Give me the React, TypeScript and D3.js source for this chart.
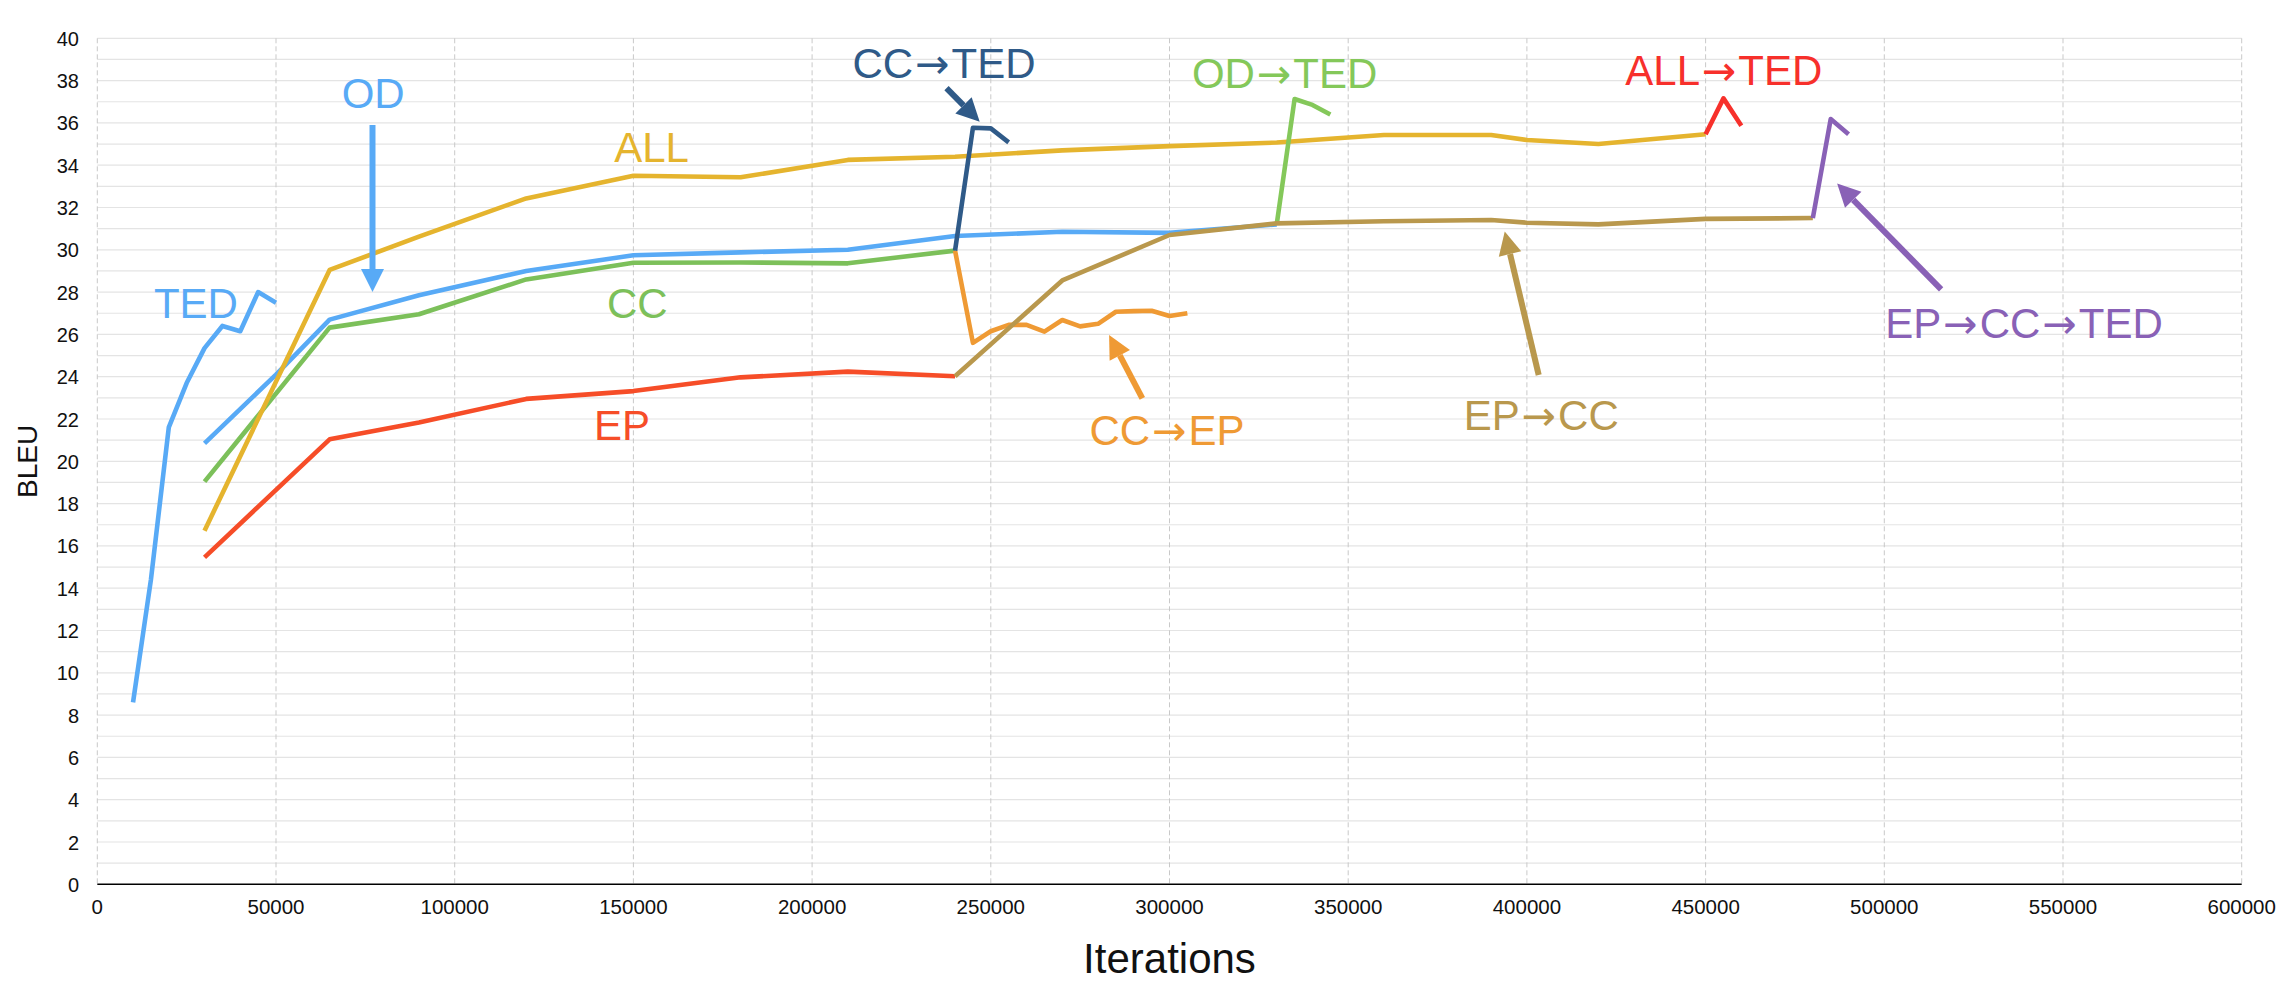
import { useEffect, useRef } from "react"
import * as d3 from "d3"

// iterations / BLEU per run
const tedX = [10000, 15000, 20000, 25000, 30000, 35000, 40000, 45000, 50000]
const tedY = [8.6, 14.4, 21.6, 23.7, 25.35, 26.4, 26.15, 28.0, 27.5]

const odX = [30000, 50000, 65000, 90000, 120000, 150000, 180000, 210000, 240000, 270000, 300000, 330000]
const odY = [20.85, 24.1, 26.7, 27.85, 29.0, 29.74, 29.88, 30.0, 30.65, 30.85, 30.8, 31.2]

const allX = [30000, 65000, 90000, 120000, 150000, 180000, 210000, 240000, 270000, 300000, 330000, 360000, 390000, 400000, 420000, 450000]
const allY = [16.72, 29.05, 30.62, 32.43, 33.5, 33.43, 34.25, 34.4, 34.7, 34.9, 35.07, 35.43, 35.43, 35.19, 35.0, 35.46]

const ccX = [30000, 65000, 90000, 120000, 150000, 180000, 210000, 240000]
const ccY = [19.04, 26.32, 26.95, 28.6, 29.39, 29.4, 29.36, 29.96]

const epX = [30000, 65000, 90000, 120000, 150000, 180000, 210000, 240000]
const epY = [15.46, 21.04, 21.83, 22.95, 23.32, 23.97, 24.24, 24.02]

const ccEpX = [240000, 245000, 250000, 255000, 260000, 265000, 270000, 275000, 280000, 285000, 290000, 295000, 300000, 305000]
const ccEpY = [29.96, 25.6, 26.15, 26.45, 26.45, 26.13, 26.68, 26.38, 26.5, 27.07, 27.1, 27.12, 26.87, 27.0]

const ccTedX = [240000, 245000, 250000, 255000]
const ccTedY = [29.96, 35.77, 35.74, 35.08]

const odTedX = [330000, 335000, 340000, 345000]
const odTedY = [31.2, 37.13, 36.85, 36.4]

const epCcX = [240000, 270000, 300000, 330000, 360000, 390000, 400000, 420000, 450000, 480000]
const epCcY = [24.02, 28.55, 30.7, 31.25, 31.35, 31.41, 31.28, 31.2, 31.46, 31.5]

const allTedX = [450000, 455000, 460000]
const allTedY = [35.46, 37.16, 35.87]

const epCcTedX = [480000, 485000, 490000]
const epCcTedY = [31.5, 36.18, 35.46]

const xTicks = d3.range(0, 600001, 50000)
const yTicks = d3.range(0, 41, 2)

const series = [
  { name: "TED", xs: tedX, ys: tedY, color: "#58aaf6" },
  { name: "OD", xs: odX, ys: odY, color: "#58aaf6" },
  { name: "CC", xs: ccX, ys: ccY, color: "#7cc05a" },
  { name: "EP", xs: epX, ys: epY, color: "#f64d28" },
  { name: "ALL", xs: allX, ys: allY, color: "#e5b42e" },
  { name: "CC→EP", xs: ccEpX, ys: ccEpY, color: "#ef9a34" },
  { name: "CC→TED", xs: ccTedX, ys: ccTedY, color: "#2f5a88" },
  { name: "OD→TED", xs: odTedX, ys: odTedY, color: "#84c85a" },
  { name: "EP→CC", xs: epCcX, ys: epCcY, color: "#b9984d" },
  { name: "ALL→TED", xs: allTedX, ys: allTedY, color: "#f7302b" },
  { name: "EP→CC→TED", xs: epCcTedX, ys: epCcTedY, color: "#8961b6" },
]

// label positions in data units (iterations, BLEU)
const labels = [
  { text: "TED", x: 27600, y: 26.76, color: "#58aaf6" },
  { text: "OD", x: 77200, y: 36.69, color: "#58aaf6" },
  { text: "ALL", x: 155100, y: 34.17, color: "#e5b42e" },
  { text: "CC", x: 151100, y: 26.76, color: "#7cc05a" },
  { text: "EP", x: 146800, y: 21.0, color: "#f64d28" },
  { text: "CC→TED", x: 236900, y: 38.11, color: "#2f5a88" },
  { text: "OD→TED", x: 332200, y: 37.64, color: "#84c85a" },
  { text: "CC→EP", x: 299300, y: 20.77, color: "#ef9a34" },
  { text: "ALL→TED", x: 455100, y: 37.79, color: "#f7302b" },
  { text: "EP→CC", x: 404000, y: 21.48, color: "#b9984d" },
  { text: "EP→CC→TED", x: 539100, y: 25.82, color: "#8961b6" },
]

const arrows = [
  { x1: 77000, y1: 35.9, x2: 77000, y2: 28.0, color: "#58aaf6" },
  { x1: 237600, y1: 37.64, x2: 246900, y2: 36.06, color: "#2f5a88" },
  { x1: 292400, y1: 22.98, x2: 283100, y2: 25.97, color: "#ef9a34" },
  { x1: 403300, y1: 24.08, x2: 393800, y2: 30.86, color: "#b9984d" },
  { x1: 515900, y1: 28.13, x2: 486800, y2: 33.14, color: "#8961b6" },
]

const W = 2287
const H = 996
const FONT = "'Liberation Sans', Arial, Helvetica, sans-serif"

export default function App() {
  const svgRef = useRef(null)

  useEffect(() => {
    const svg = d3.select(svgRef.current)
    svg.selectAll("*").remove()

    const x = d3.scaleLinear().domain([0, 600000]).range([97.3, 2241.7])
    const y = d3.scaleLinear().domain([0, 40]).range([884.3, 38.3])

    svg.append("rect").attr("width", W).attr("height", H).attr("fill", "#fff")

    // horizontal grid, every 1 BLEU
    svg
      .append("g")
      .selectAll("line")
      .data(d3.range(1, 41))
      .enter()
      .append("line")
      .attr("x1", x(0))
      .attr("x2", x(600000))
      .attr("y1", (d) => y(d))
      .attr("y2", (d) => y(d))
      .attr("stroke", "#e4e4e4")
      .attr("stroke-width", 1.2)

    // vertical dashed grid
    svg
      .append("g")
      .selectAll("line")
      .data(xTicks)
      .enter()
      .append("line")
      .attr("x1", (d) => x(d))
      .attr("x2", (d) => x(d))
      .attr("y1", y(40))
      .attr("y2", y(0))
      .attr("stroke", "#c9c9c9")
      .attr("stroke-width", 1)
      .attr("stroke-dasharray", "5,3")

    // x axis line
    svg
      .append("line")
      .attr("x1", x(0))
      .attr("x2", x(600000))
      .attr("y1", y(0))
      .attr("y2", y(0))
      .attr("stroke", "#000")
      .attr("stroke-width", 1.5)

    svg
      .append("g")
      .selectAll("text")
      .data(yTicks)
      .enter()
      .append("text")
      .attr("x", 79)
      .attr("y", (d) => y(d) + 7.5)
      .attr("text-anchor", "end")
      .attr("font-family", FONT)
      .attr("font-size", 20)
      .attr("fill", "#111")
      .text((d) => d)

    svg
      .append("g")
      .selectAll("text")
      .data(xTicks)
      .enter()
      .append("text")
      .attr("x", (d) => x(d))
      .attr("y", 914)
      .attr("text-anchor", "middle")
      .attr("font-family", FONT)
      .attr("font-size", 20.5)
      .attr("fill", "#111")
      .text((d) => d)

    svg
      .append("text")
      .attr("x", (x(0) + x(600000)) / 2)
      .attr("y", 973)
      .attr("text-anchor", "middle")
      .attr("font-family", FONT)
      .attr("font-size", 42)
      .attr("fill", "#111")
      .text("Iterations")

    svg
      .append("text")
      .attr("transform", `translate(36.5, ${(y(0) + y(40)) / 2}) rotate(-90)`)
      .attr("text-anchor", "middle")
      .attr("font-family", FONT)
      .attr("font-size", 28)
      .attr("fill", "#111")
      .text("BLEU")

    const path = d3
      .line<[number, number]>()
      .x((d) => x(d[0]))
      .y((d) => y(d[1]))

    series.forEach((s) => {
      const pts: [number, number][] = s.xs.map((v, i) => [v, s.ys[i]])
      svg
        .append("path")
        .attr("d", path(pts))
        .attr("fill", "none")
        .attr("stroke", s.color)
        .attr("stroke-width", 4.6)
        .attr("stroke-linejoin", "round")
    })

    // annotation arrows
    arrows.forEach((a) => {
      const px1 = x(a.x1)
      const py1 = y(a.y1)
      const px2 = x(a.x2)
      const py2 = y(a.y2)
      const ang = Math.atan2(py2 - py1, px2 - px1)
      const headLen = 23
      const headHalf = 11.5
      const bx = px2 - headLen * Math.cos(ang)
      const by = py2 - headLen * Math.sin(ang)
      svg
        .append("line")
        .attr("x1", px1)
        .attr("y1", py1)
        .attr("x2", bx)
        .attr("y2", by)
        .attr("stroke", a.color)
        .attr("stroke-width", 6)
      const nx = -Math.sin(ang)
      const ny = Math.cos(ang)
      svg
        .append("path")
        .attr(
          "d",
          `M${px2},${py2}L${bx + nx * headHalf},${by + ny * headHalf}L${bx - nx * headHalf},${by - ny * headHalf}Z`
        )
        .attr("fill", a.color)
    })

    // annotation labels; the arrow glyph comes from DejaVu, which draws a full-size one
    const lab = svg
      .append("g")
      .selectAll("text")
      .data(labels)
      .enter()
      .append("text")
      .attr("x", (d) => x(d.x))
      .attr("y", (d) => y(d.y))
      .attr("text-anchor", "middle")
      .attr("font-family", FONT)
      .attr("font-size", 42)
      .attr("fill", (d) => d.color)

    lab.each(function (d) {
      const t = d3.select(this)
      d.text.split("→").forEach((part, i) => {
        if (i > 0) {
          t.append("tspan").attr("font-family", "'DejaVu Sans'").attr("font-size", 41).attr("dx", 2).text("→")
          t.append("tspan").attr("dx", 2).text(part)
        } else {
          t.append("tspan").text(part)
        }
      })
    })
  }, [])

  return (
    <svg
      ref={svgRef}
      width={W}
      height={H}
      style={{ position: "absolute", left: 0, top: 0, display: "block" }}
    ></svg>
  )
}
